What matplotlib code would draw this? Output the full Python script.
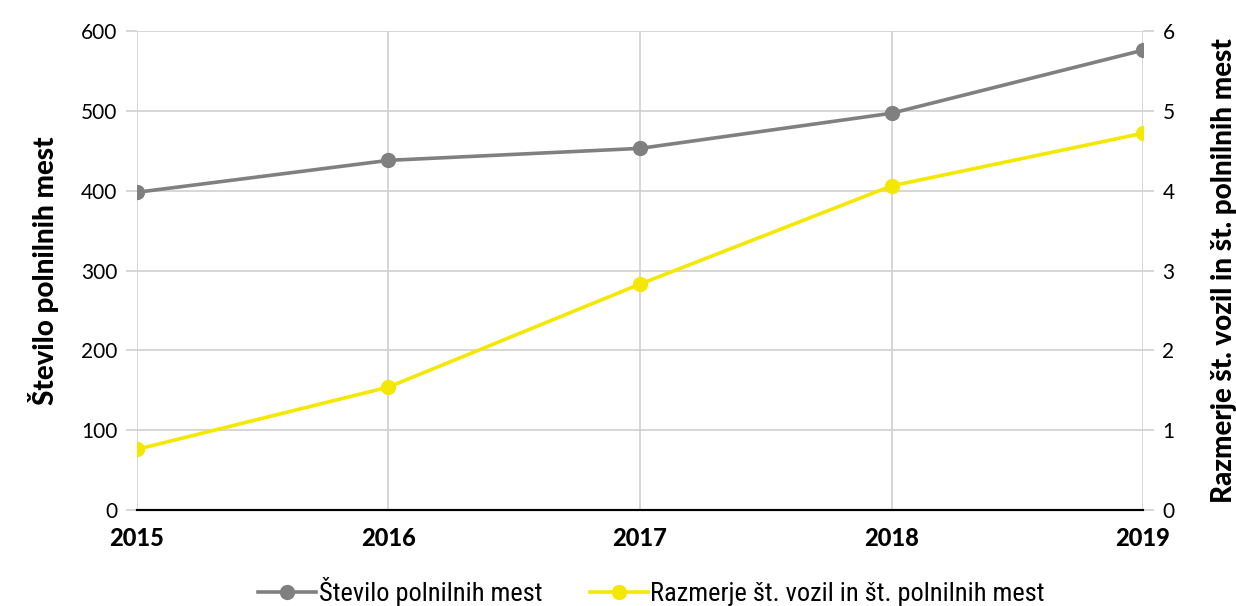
import matplotlib
matplotlib.use("Agg")
import matplotlib.pyplot as plt
from matplotlib import font_manager

years = [2015, 2016, 2017, 2018, 2019]
stevilo = [398, 438, 453, 497, 576]
razmerje = [0.76, 1.54, 2.83, 4.06, 4.72]
left_ticks = [0, 100, 200, 300, 400, 500, 600]
right_ticks = [0, 1, 2, 3, 4, 5, 6]
label_left = "Število polnilnih mest"
label_right = "Razmerje št. vozil in št. polnilnih mest"

GRAY = "#808080"
YELLOW = "#F5E800"
GRID = "#D0D0D0"
FONT = ["Lato", "DejaVu Sans"]
names = {f.name for f in font_manager.fontManager.ttflist}
NARROW = ["Liberation Sans Narrow"] if "Liberation Sans Narrow" in names else ["Roboto Condensed"] if "Roboto Condensed" in names else ["Lato"]
lato_w = {str(f.weight) for f in font_manager.fontManager.ttflist if f.name == "Lato"}
HEAVY = "black" if any(w in ("900", "black", "heavy") for w in lato_w) else "bold"

fig = plt.figure(figsize=(12.36, 6.06), dpi=100)
ax = fig.add_axes([0.1108, 0.1584, 0.8140, 0.7904])
ax2 = ax.twinx()

l1, = ax.plot(years, stevilo, color=GRAY, lw=2.6, marker="o", ms=10, label=label_left, zorder=3)
l2, = ax2.plot(years, razmerje, color=YELLOW, lw=2.6, marker="o", ms=10, label=label_right, zorder=3)

ax.set_xlim(2015, 2019)
ax.set_ylim(0, 600)
ax2.set_ylim(0, 6)
ax.set_xticks(years)
ax.set_xticklabels([str(y) for y in years], fontweight=HEAVY, fontsize=17, family=FONT)
ax.set_yticks(left_ticks)
ax.set_yticklabels([str(t) for t in left_ticks], fontsize=15, family=FONT)
ax2.set_yticks(right_ticks)
ax2.set_yticklabels([str(t) for t in right_ticks], fontsize=15, family=FONT)

ax.grid(True, color=GRID, lw=1.2)
ax.set_axisbelow(True)
for a in (ax, ax2):
    for s in ("top", "left", "right"):
        a.spines[s].set_visible(False)
    a.spines["bottom"].set_color("black")
    a.spines["bottom"].set_linewidth(1.5)
ax.tick_params(axis="x", length=0, pad=12)
ax2.tick_params(axis="y", length=8, color=GRID, width=1.2, pad=6)
ax.tick_params(axis="y", length=8, color=GRID, width=1.2, pad=6)

ax.set_ylabel(label_left, fontsize=20, fontweight=HEAVY, family=FONT, labelpad=16)
ax2.set_ylabel(label_right, fontsize=20, fontweight=HEAVY, family=FONT, labelpad=26)

fig.legend([l1, l2], [label_left, label_right], loc="lower center", bbox_to_anchor=(0.527, -0.04),
           ncol=2, frameon=False, prop={"family": NARROW + ["Lato"], "size": 19},
           handlelength=2.2, columnspacing=1.8, handletextpad=0.1)

fig.savefig("out.png", dpi=100)
